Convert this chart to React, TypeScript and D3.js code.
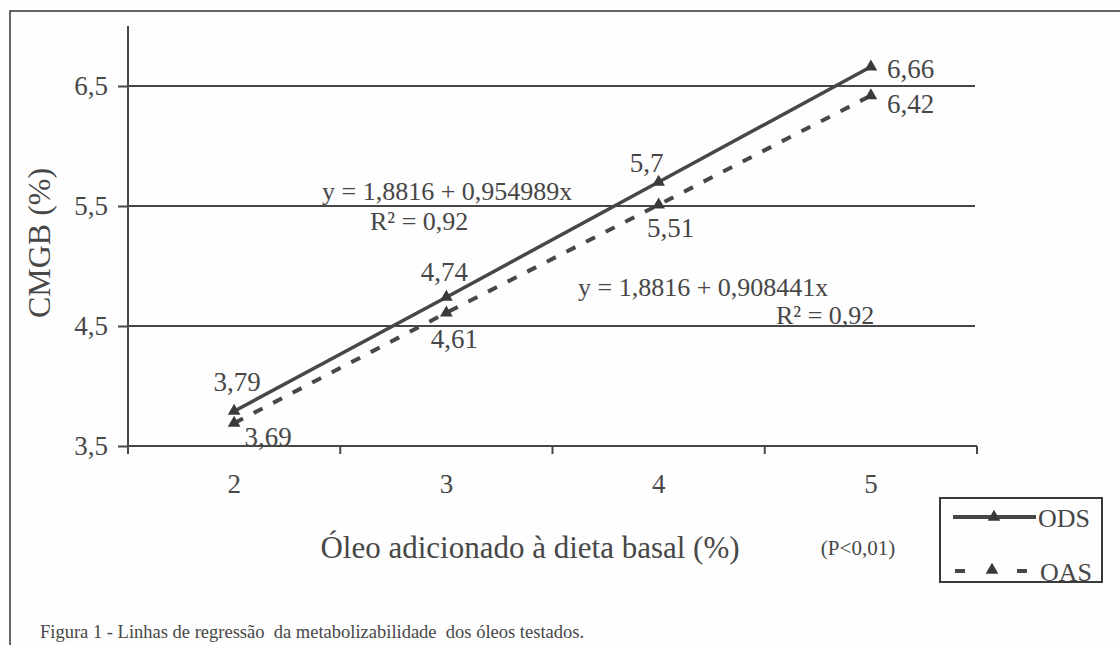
import React, { useRef, useEffect } from 'react';
import * as d3 from 'd3';

// data
const doses = ['2', '3', '4', '5'];
const odsValues = [3.79, 4.74, 5.7, 6.66];
const oasValues = [3.69, 4.61, 5.51, 6.42];
const odsLabels = ['3,79', '4,74', '5,7', '6,66'];
const oasLabels = ['3,69', '4,61', '5,51', '6,42'];
const yTicks = [3.5, 4.5, 5.5, 6.5];
const yTickLabels = ['3,5', '4,5', '5,5', '6,5'];

const FONT = 'Liberation Serif';
const INK = '#474747';

const App = () => {
  const svgRef = useRef<SVGSVGElement | null>(null);

  useEffect(() => {
    document.body.style.margin = '0';
    if (!svgRef.current) return;
    const svg = d3.select(svgRef.current);
    svg.selectAll('*').remove();

    const width = 1120;
    const height = 645;
    const left = 128;
    const right = 977;
    const top = 26;
    const bottom = 446;

    svg.append('rect').attr('width', width).attr('height', height).attr('fill', '#fefefe');

    // outer frame (top + left only)
    svg.append('path')
      .attr('d', `M10,${height} L10,11 L${width},11`)
      .attr('fill', 'none')
      .attr('stroke', '#333')
      .attr('stroke-width', 1.5);

    const x = d3.scaleBand().domain(doses).range([left, right]).padding(0);
    const y = d3.scaleLinear().domain([3.5, 7]).range([bottom, top]);
    const cx = (d: string) => (x(d) as number) + x.bandwidth() / 2;

    // grid lines
    yTicks.slice(1).forEach(t => {
      svg.append('line')
        .attr('x1', left).attr('x2', right - 2)
        .attr('y1', y(t)).attr('y2', y(t))
        .attr('stroke', INK).attr('stroke-width', 2);
    });

    // y axis
    svg.append('g')
      .attr('transform', `translate(${left},0)`)
      .attr('font-family', FONT)
      .call(d3.axisLeft(y).tickValues(yTicks).tickSize(10).tickFormat((_, i) => yTickLabels[i]))
      .call(g => g.select('.domain').attr('stroke', INK).attr('stroke-width', 2).attr('d', `M0,${top}V${bottom}`))
      .call(g => g.selectAll('.tick line').attr('stroke', INK).attr('stroke-width', 2))
      .call(g => g.selectAll('.tick text')
        .attr('fill', INK).attr('x', -20).attr('dy', '0.3em')
        .attr('font-family', FONT).attr('font-size', 27));

    // x axis: ticks at band boundaries
    svg.append('line')
      .attr('x1', left).attr('x2', right)
      .attr('y1', bottom).attr('y2', bottom)
      .attr('stroke', INK).attr('stroke-width', 2);
    const bounds = doses.map(d => x(d) as number).concat([right]);
    bounds.forEach(b => {
      svg.append('line')
        .attr('x1', b).attr('x2', b)
        .attr('y1', bottom).attr('y2', bottom + 8)
        .attr('stroke', INK).attr('stroke-width', 2);
    });

    const label = (txt: string, lx: number, ly: number, anchor = 'middle', size = 26) =>
      svg.append('text')
        .attr('x', lx).attr('y', ly)
        .attr('text-anchor', anchor)
        .attr('fill', INK)
        .attr('font-family', FONT).attr('font-size', size)
        .text(txt);

    doses.forEach(d => label(d, cx(d), 493, 'middle', 27));

    // series lines
    const line = d3.line<number>()
      .x((_, i) => cx(doses[i]))
      .y(d => y(d));

    svg.append('path')
      .datum(oasValues)
      .attr('fill', 'none')
      .attr('stroke', INK)
      .attr('stroke-width', 4)
      .attr('stroke-dasharray', '10,12')
      .attr('d', line);

    svg.append('path')
      .datum(odsValues)
      .attr('fill', 'none')
      .attr('stroke', INK)
      .attr('stroke-width', 3.5)
      .attr('d', line);

    const tri = d3.symbol().type(d3.symbolTriangle).size(70);
    [odsValues, oasValues].forEach(vals => {
      vals.forEach((v, i) => {
        svg.append('path')
          .attr('d', tri())
          .attr('transform', `translate(${cx(doses[i])},${y(v)})`)
          .attr('fill', '#3a3a3a');
      });
    });

    // value labels
    const odsOffsets = [[3, -20], [-2, -16], [-12, -10], [16, 11]];
    const oasOffsets = [[34, 23], [8, 35], [12, 32], [16, 17]];
    odsLabels.forEach((t, i) => {
      const [dx, dy] = odsOffsets[i];
      label(t, cx(doses[i]) + dx, y(odsValues[i]) + dy, i === 3 ? 'start' : 'middle', 27);
    });
    oasLabels.forEach((t, i) => {
      const [dx, dy] = oasOffsets[i];
      label(t, cx(doses[i]) + dx, y(oasValues[i]) + dy, i === 3 ? 'start' : 'middle', 27);
    });

    // regression equations
    label('y = 1,8816 + 0,954989x', 322, 200, 'start');
    label('R² = 0,92', 370, 230, 'start');
    label('y = 1,8816 + 0,908441x', 578, 296, 'start');
    label('R² = 0,92', 776, 324, 'start');

    // axis titles
    svg.append('text')
      .attr('transform', 'translate(50,243) rotate(-90)')
      .attr('text-anchor', 'middle')
      .attr('fill', INK)
      .attr('font-family', FONT).attr('font-size', 32)
      .text('CMGB (%)');
    label('Óleo adicionado à dieta basal (%)', 530, 558, 'middle', 31);
    label('(P<0,01)', 858, 555, 'middle', 21);

    // legend
    const lg = svg.append('g');
    lg.append('rect')
      .attr('x', 940).attr('y', 498).attr('width', 162).attr('height', 84)
      .attr('fill', 'none').attr('stroke', '#3a3a3a').attr('stroke-width', 2);
    lg.append('line')
      .attr('x1', 953).attr('x2', 1036).attr('y1', 517).attr('y2', 517)
      .attr('stroke', INK).attr('stroke-width', 4);
    lg.append('path').attr('d', tri()).attr('transform', 'translate(994,517)').attr('fill', '#3a3a3a');
    lg.append('text').attr('x', 1038).attr('y', 527).attr('fill', INK)
      .attr('font-family', FONT).attr('font-size', 26).text('ODS');
    lg.append('line')
      .attr('x1', 955).attr('x2', 1030).attr('y1', 571).attr('y2', 571)
      .attr('stroke', INK).attr('stroke-width', 4)
      .attr('stroke-dasharray', '10,52,10');
    lg.append('path').attr('d', tri()).attr('transform', 'translate(992,570)').attr('fill', '#3a3a3a');
    lg.append('text').attr('x', 1040).attr('y', 581).attr('fill', INK)
      .attr('font-family', FONT).attr('font-size', 26).text('OAS');

    // caption
    label('Figura 1 - Linhas de regressão  da metabolizabilidade  dos óleos testados.', 40, 638, 'start', 18.5)
      .style('white-space', 'pre');
  }, []);

  return (
    <svg ref={svgRef} width={1120} height={645} viewBox="0 0 1120 645" style={{ display: 'block' }} />
  );
};

export default App;
